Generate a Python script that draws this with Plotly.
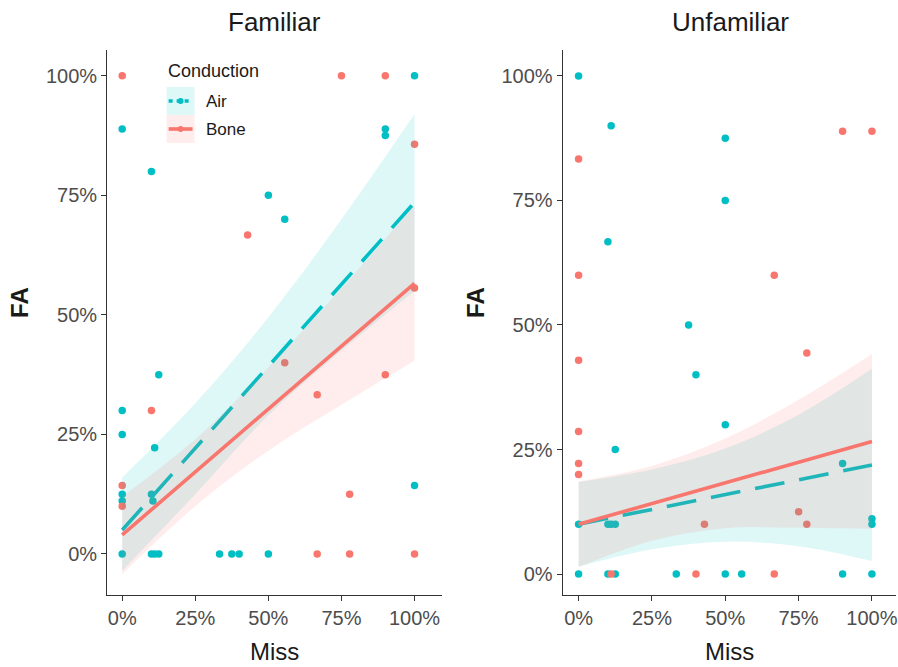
import plotly.graph_objects as go

W, H = 898, 667
AIR = "#00BFC4"
BONE = "#F8766D"
AIR_FILL = "rgba(0,191,196,0.13)"
BONE_FILL = "rgba(248,118,109,0.13)"
FONT = "Liberation Sans, Arial, sans-serif"

# ---------------- data ----------------
# Familiar panel, observed points
fam_air_miss = [1.0, 0.0, 0.1, 0.9, 0.9, 0.5, 0.556, 0.125, 0.0, 0.0, 0.111, 1.0,
                0.0, 0.0, 0.1, 0.105, 0.0, 0.1, 0.111, 0.125, 0.333, 0.375, 0.4, 0.5]
fam_air_fa = [1.0, 0.889, 0.8, 0.889, 0.875, 0.75, 0.7, 0.375, 0.3, 0.25, 0.222, 0.143,
              0.125, 0.111, 0.125, 0.111, 0.0, 0.0, 0.0, 0.0, 0.0, 0.0, 0.0, 0.0]
fam_bone_miss = [0.0, 0.75, 0.9, 1.0, 0.429, 0.556, 0.9, 0.667, 0.1, 0.0, 0.0,
                 0.778, 1.0, 0.667, 0.778, 1.0]
fam_bone_fa = [1.0, 1.0, 1.0, 0.857, 0.667, 0.4, 0.375, 0.333, 0.3, 0.143, 0.1,
               0.125, 0.556, 0.0, 0.0, 0.0]

# Unfamiliar panel, observed points
unf_air_miss = [0.0, 0.111, 0.5, 0.5, 0.1, 0.375, 0.4, 0.5, 0.125, 0.9, 0.0, 0.1,
                0.111, 0.125, 1.0, 1.0, 0.0, 0.1, 0.125, 0.333, 0.5, 0.556, 0.9, 1.0]
unf_air_fa = [1.0, 0.9, 0.875, 0.75, 0.667, 0.5, 0.4, 0.3, 0.25, 0.222, 0.1, 0.1,
              0.1, 0.1, 0.111, 0.1, 0.0, 0.0, 0.0, 0.0, 0.0, 0.0, 0.0, 0.0]
unf_bone_miss = [0.9, 1.0, 0.0, 0.0, 0.667, 0.778, 0.0, 0.0, 0.0, 0.0, 0.75, 0.778,
                 0.429, 0.111, 0.4, 0.667]
unf_bone_fa = [0.889, 0.889, 0.833, 0.6, 0.6, 0.444, 0.429, 0.286, 0.222, 0.2, 0.125,
               0.1, 0.1, 0.0, 0.0, 0.0]

# Linear fits (value at Miss = 0 and Miss = 1)
fit_x = [0.0, 1.0]
fam_air_fit = [0.05, 0.735]
fam_bone_fit = [0.04, 0.566]
unf_air_fit = [0.1, 0.219]
unf_bone_fit = [0.1, 0.266]

# Confidence bands of the fits
band_x = [0.0, 0.25, 0.5, 0.75, 1.0]
fam_air_lo = [-0.035, 0.125, 0.29, 0.425, 0.55]
fam_air_hi = [0.16, 0.315, 0.495, 0.70, 0.92]
fam_bone_lo = [-0.042, 0.10, 0.216, 0.312, 0.404]
fam_bone_hi = [0.12, 0.24, 0.39, 0.556, 0.73]
unf_air_lo = [0.015, 0.05, 0.065, 0.056, 0.026]
unf_air_hi = [0.185, 0.21, 0.252, 0.32, 0.412]
unf_bone_lo = [0.014, 0.067, 0.092, 0.093, 0.091]
unf_bone_hi = [0.186, 0.217, 0.272, 0.35, 0.442]

pct_vals = [0.0, 0.25, 0.5, 0.75, 1.0]
pct_text = ["0%", "25%", "50%", "75%", "100%"]

panel_titles = ["Familiar", "Unfamiliar"]
group_names = ["Air", "Bone"]
legend_title = "Conduction"


def px(x):
    return x / W


def py(y):
    return 1 - y / H


fig = go.Figure()

panels = [
    ("x", "y", (fam_air_miss, fam_air_fa, fam_air_fit, fam_air_lo, fam_air_hi),
     (fam_bone_miss, fam_bone_fa, fam_bone_fit, fam_bone_lo, fam_bone_hi)),
    ("x2", "y2", (unf_air_miss, unf_air_fa, unf_air_fit, unf_air_lo, unf_air_hi),
     (unf_bone_miss, unf_bone_fa, unf_bone_fit, unf_bone_lo, unf_bone_hi)),
]

for xa, ya, air, bone in panels:
    # points
    for (mx, fa, _, _, _), col in ((air, AIR), (bone, BONE)):
        fig.add_trace(go.Scatter(x=mx, y=fa, mode="markers", xaxis=xa, yaxis=ya,
                                 marker=dict(size=7.5, color=col, line=dict(width=0)),
                                 showlegend=False, hoverinfo="skip"))
    # bands and fitted lines, group by group
    for (_, _, fit, lo, hi), col, fill, dash in ((air, AIR, AIR_FILL, "30px,15px"),
                                                 (bone, BONE, BONE_FILL, "solid")):
        fig.add_trace(go.Scatter(x=band_x, y=lo, mode="lines",
                                 line=dict(width=0, shape="spline", smoothing=1.0),
                                 xaxis=xa, yaxis=ya, showlegend=False, hoverinfo="skip"))
        fig.add_trace(go.Scatter(x=band_x, y=hi, mode="lines", fill="tonexty", fillcolor=fill,
                                 line=dict(width=0, shape="spline", smoothing=1.0),
                                 xaxis=xa, yaxis=ya, showlegend=False, hoverinfo="skip"))
        fig.add_trace(go.Scatter(x=fit_x, y=fit, mode="lines", xaxis=xa, yaxis=ya,
                                 line=dict(color=col, width=3.6, dash=dash),
                                 showlegend=False, hoverinfo="skip"))

axis_common = dict(
    showgrid=False, zeroline=False, showline=True, linecolor="#333333", linewidth=1.2,
    ticks="outside", ticklen=5, tickcolor="#333333", tickwidth=1.1,
    tickvals=pct_vals, ticktext=pct_text, ticklabeloverflow="allow",
    tickfont=dict(family=FONT, size=20, color="#4D4D4D"),
)

fig.update_layout(
    width=W, height=H, margin=dict(l=0, r=0, t=0, b=0),
    paper_bgcolor="white", plot_bgcolor="white", showlegend=False,
    xaxis=dict(domain=[px(107.4), px(443)], range=[-0.0515, 1.094], anchor="y", **axis_common),
    yaxis=dict(domain=[py(595), py(50)], range=[-0.0858, 1.054], anchor="x", **axis_common),
    xaxis2=dict(domain=[px(564), 1.0], range=[-0.054, 1.082], anchor="y2", **axis_common),
    yaxis2=dict(domain=[py(595), py(50)], range=[-0.042, 1.052], anchor="x2", **axis_common),
)

annotations = []
# panel titles
for title, cx in zip(panel_titles, (275, 732)):
    annotations.append(dict(text=title, x=px(cx), y=py(22), xref="paper", yref="paper",
                            showarrow=False, xanchor="center", yanchor="middle",
                            font=dict(family=FONT, size=26, color="#1A1A1A")))
# axis titles
for cx in (275, 731):
    annotations.append(dict(text="Miss", x=px(cx), y=py(651), xref="paper", yref="paper",
                            showarrow=False, xanchor="center", yanchor="middle",
                            font=dict(family=FONT, size=24, color="#1A1A1A")))
for cx in (19, 476):
    annotations.append(dict(text="<b>FA</b>", x=px(cx), y=py(302), xref="paper", yref="paper",
                            showarrow=False, xanchor="center", yanchor="middle", textangle=-90,
                            font=dict(family=FONT, size=24, color="#1A1A1A")))

# legend
annotations.append(dict(text=legend_title, x=px(166), y=py(71), xref="paper", yref="paper",
                        showarrow=False, xanchor="left", yanchor="middle",
                        font=dict(family=FONT, size=18, color="#1A1A1A")))
shapes = []
for name, col, fill, dash, top in ((group_names[0], AIR, AIR_FILL, "dash", 87),
                                   (group_names[1], BONE, BONE_FILL, "solid", 115)):
    mid = top + 14
    shapes.append(dict(type="rect", xref="paper", yref="paper",
                       x0=px(167), x1=px(195), y0=py(top + 28), y1=py(top),
                       fillcolor=fill, line=dict(width=0), layer="above"))
    shapes.append(dict(type="line", xref="paper", yref="paper",
                       x0=px(169), x1=px(193), y0=py(mid), y1=py(mid),
                       line=dict(color=col, width=3.6, dash=dash if dash == "solid" else "4px,4px"),
                       layer="above"))
    shapes.append(dict(type="circle", xref="paper", yref="paper",
                       x0=px(178), x1=px(184), y0=py(mid + 3), y1=py(mid - 3),
                       fillcolor=col, line=dict(width=0), layer="above"))
    annotations.append(dict(text=name, x=px(204), y=py(mid), xref="paper", yref="paper",
                            showarrow=False, xanchor="left", yanchor="middle",
                            font=dict(family=FONT, size=17, color="#1A1A1A")))

fig.update_layout(annotations=annotations, shapes=shapes)
fig.write_html("out.html")
